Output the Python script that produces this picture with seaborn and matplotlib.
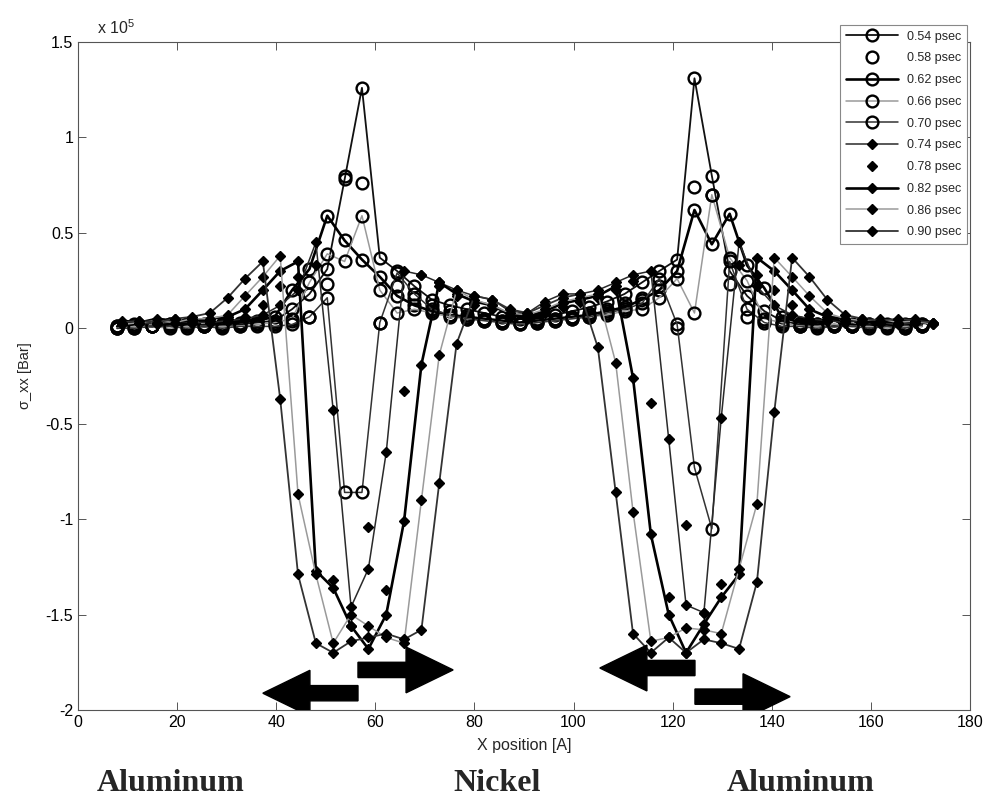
import matplotlib
matplotlib.use("Agg")
import matplotlib.pyplot as plt
from matplotlib.patches import FancyArrow
import pandas as pd
import seaborn as sns

# Bin centres along x [Angstrom]
X_DIAMOND = [8.8, 12.4, 15.9, 19.5, 23.0, 26.6, 30.2, 33.7, 37.3, 40.8, 44.4, 48.0,
             51.5, 55.1, 58.6, 62.2, 65.8, 69.3, 72.9, 76.4, 80.0, 83.6, 87.1, 90.7,
             94.2, 97.8, 101.4, 104.9, 108.5, 112.0, 115.6, 119.2, 122.7, 126.3, 129.8,
             133.4, 137.0, 140.5, 144.1, 147.6, 151.2, 154.8, 158.3, 161.9, 165.4, 169.0, 172.6]
X_CIRCLE = [7.9, 11.4, 15.0, 18.5, 22.0, 25.5, 29.1, 32.6, 36.1, 39.7, 43.2, 46.7,
            50.3, 53.8, 57.3, 60.9, 64.4, 67.9, 71.4, 75.0, 78.5, 82.0, 85.6, 89.1,
            92.6, 96.2, 99.7, 103.2, 106.7, 110.3, 113.8, 117.3, 120.9, 124.4, 127.9,
            131.5, 135.0, 138.5, 142.0, 145.6, 149.1, 152.6, 156.2, 159.7, 163.2, 166.8, 170.3]

# sigma_xx in units of 1e5 bar
S054 = [0.00, 0.01, 0.01, 0.02, 0.01, 0.02, 0.01, 0.02, 0.03, 0.04, 0.10, 0.18, 0.31, 0.78, 1.26, 0.37,
        0.30, 0.22, 0.15, 0.12, 0.10, 0.08, 0.06, 0.05, 0.05, 0.07, 0.09, 0.11, 0.14, 0.18, 0.24, 0.30,
        0.36, 1.31, 0.80, 0.30, 0.17, 0.09, 0.04, 0.02, 0.01, 0.02, 0.01, 0.02, 0.01, 0.02, 0.01]
S058 = [0.01, 0.00, 0.01, 0.01, 0.02, 0.01, 0.01, 0.02, 0.02, 0.02, 0.04, 0.06, 0.23, 0.80, 0.76, 0.03,
        0.22, 0.16, 0.12, 0.09, 0.07, 0.05, 0.04, 0.03, 0.04, 0.05, 0.06, 0.08, 0.10, 0.13, 0.16, 0.22,
        0.00, 0.74, 0.70, 0.23, 0.06, 0.04, 0.02, 0.01, 0.02, 0.01, 0.01, 0.02, 0.01, 0.00, 0.01]
S062 = [0.01, 0.02, 0.01, 0.02, 0.02, 0.01, 0.02, 0.03, 0.04, 0.06, 0.20, 0.31, 0.59, 0.46, 0.36, 0.27,
        0.17, 0.12, 0.09, 0.07, 0.06, 0.05, 0.04, 0.03, 0.04, 0.05, 0.06, 0.07, 0.09, 0.11, 0.15, 0.20,
        0.30, 0.62, 0.44, 0.60, 0.33, 0.21, 0.06, 0.03, 0.02, 0.01, 0.02, 0.01, 0.02, 0.01, 0.02]
S066 = [0.00, 0.01, 0.01, 0.00, 0.01, 0.01, 0.01, 0.01, 0.02, 0.03, 0.05, 0.24, 0.39, 0.35, 0.59, 0.20,
        0.08, 0.10, 0.08, 0.06, 0.05, 0.04, 0.03, 0.02, 0.03, 0.04, 0.05, 0.06, 0.07, 0.09, 0.10, 0.16,
        0.26, 0.08, 0.70, 0.37, 0.25, 0.05, 0.03, 0.01, 0.01, 0.02, 0.01, 0.01, 0.00, 0.01, 0.01]
S070 = [0.00, 0.00, 0.01, 0.01, 0.00, 0.01, 0.00, 0.01, 0.01, 0.01, 0.02, 0.06, 0.16, -0.86, -0.86, 0.03,
        0.29, 0.18, 0.10, 0.07, 0.05, 0.04, 0.03, 0.02, 0.03, 0.04, 0.05, 0.06, 0.08, 0.10, 0.13, 0.26,
        0.02, -0.73, -1.05, 0.35, 0.10, 0.03, 0.01, 0.01, 0.00, 0.01, 0.01, 0.00, 0.01, 0.00, 0.02]
S074 = [0.02, 0.03, 0.02, 0.04, 0.03, 0.03, 0.04, 0.05, 0.07, 0.12, 0.20, 0.45, -0.43, -1.46, -1.26, -0.65,
        0.30, 0.28, 0.24, 0.20, 0.17, 0.15, 0.09, 0.08, 0.14, 0.18, 0.18, 0.20, 0.24, 0.28, 0.30, -0.58,
        -1.45, -1.49, -0.47, 0.45, 0.22, 0.12, 0.07, 0.05, 0.04, 0.03, 0.04, 0.03, 0.02, 0.03, 0.02]
S078 = [0.03, 0.04, 0.04, 0.05, 0.03, 0.04, 0.05, 0.06, 0.12, 0.22, 0.27, 0.33, -1.32, -1.56, -1.04, -1.37,
        -0.33, 0.28, 0.22, 0.17, 0.12, 0.10, 0.06, 0.05, 0.08, 0.11, 0.14, 0.16, 0.20, 0.25, -0.39, -1.41,
        -1.03, -1.49, -1.34, 0.33, 0.28, 0.20, 0.12, 0.07, 0.05, 0.04, 0.05, 0.04, 0.03, 0.04, 0.03]
S082 = [0.04, 0.03, 0.05, 0.04, 0.04, 0.05, 0.06, 0.10, 0.20, 0.30, 0.35, -1.27, -1.36, -1.56, -1.68, -1.50,
        -1.01, -0.19, 0.24, 0.18, 0.14, 0.12, 0.07, 0.06, 0.09, 0.13, 0.15, 0.17, 0.22, -0.26, -1.08, -1.50,
        -1.70, -1.55, -1.41, -1.29, 0.37, 0.30, 0.20, 0.10, 0.06, 0.05, 0.04, 0.03, 0.04, 0.05, 0.03]
S086 = [0.02, 0.03, 0.04, 0.03, 0.05, 0.05, 0.07, 0.17, 0.27, 0.38, -0.87, -1.29, -1.65, -1.50, -1.56, -1.62,
        -1.65, -0.90, -0.14, 0.20, 0.15, 0.12, 0.08, 0.07, 0.10, 0.14, 0.16, 0.18, -0.18, -0.96, -1.64, -1.62,
        -1.57, -1.58, -1.60, -1.26, -0.92, 0.37, 0.27, 0.17, 0.08, 0.05, 0.04, 0.05, 0.03, 0.04, 0.02]
S090 = [0.03, 0.04, 0.03, 0.05, 0.06, 0.08, 0.16, 0.26, 0.35, -0.37, -1.29, -1.65, -1.70, -1.64, -1.62, -1.60,
        -1.63, -1.58, -0.81, -0.08, 0.17, 0.15, 0.10, 0.08, 0.12, 0.16, 0.18, -0.10, -0.86, -1.60, -1.70, -1.62,
        -1.70, -1.63, -1.65, -1.68, -1.33, -0.44, 0.37, 0.27, 0.15, 0.07, 0.05, 0.04, 0.05, 0.04, 0.03]

LABELS = ["0.54 psec", "0.58 psec", "0.62 psec", "0.66 psec", "0.70 psec",
          "0.74 psec", "0.78 psec", "0.82 psec", "0.86 psec", "0.90 psec"]
SERIES = [S054, S058, S062, S066, S070, S074, S078, S082, S086, S090]
UNIT = 1e5

Y_TICKS = [-2, -1.5, -1, -0.5, 0, 0.5, 1, 1.5]
Y_TICK_LABELS = ["-2", "-1.5", "-1", "-0.5", "0", "0.5", "1", "1.5"]
X_TICKS = [0, 20, 40, 60, 80, 100, 120, 140, 160, 180]

rows = []
for lab, vals in zip(LABELS, SERIES):
    xs = X_CIRCLE if lab in LABELS[:5] else X_DIAMOND
    for x, v in zip(xs, vals):
        rows.append({"time": lab, "x": x, "sigma": v * UNIT})
df = pd.DataFrame(rows)

# line colour, width, style and marker for each time step
STYLE = {
    "0.54 psec": dict(color="#111111", lw=1.3, ls="-", marker="o"),
    "0.58 psec": dict(color="#111111", lw=1.0, ls="none", marker="o"),
    "0.62 psec": dict(color="#000000", lw=1.9, ls="-", marker="o"),
    "0.66 psec": dict(color="#9a9a9a", lw=1.1, ls="-", marker="o"),
    "0.70 psec": dict(color="#333333", lw=1.1, ls="-", marker="o"),
    "0.74 psec": dict(color="#2a2a2a", lw=1.1, ls="-", marker="D"),
    "0.78 psec": dict(color="#111111", lw=1.0, ls="none", marker="D"),
    "0.82 psec": dict(color="#000000", lw=1.9, ls="-", marker="D"),
    "0.86 psec": dict(color="#9a9a9a", lw=1.1, ls="-", marker="D"),
    "0.90 psec": dict(color="#333333", lw=1.3, ls="-", marker="D"),
}

sns.set_theme(style="white")
plt.rcParams["font.family"] = ["Liberation Sans", "DejaVu Sans"]
plt.rcParams["mathtext.default"] = "regular"

fig = plt.figure(figsize=(9.87, 7.97), dpi=100)
ax = fig.add_axes([78 / 987, 1 - 710 / 797, (970 - 78) / 987, (710 - 42) / 797])

for lab in LABELS:
    st = STYLE[lab]
    sub = df[df["time"] == lab]
    circle = st["marker"] == "o"
    sns.lineplot(data=sub, x="x", y="sigma", ax=ax, estimator=None, sort=False,
                 color=st["color"], linewidth=st["lw"], linestyle=st["ls"],
                 marker=st["marker"], markersize=8.5 if circle else 5.6,
                 markerfacecolor="none" if circle else "black",
                 markeredgecolor="black", markeredgewidth=1.7 if circle else 1.0,
                 label=lab)

ax.set_xlim(0, 180)
ax.set_ylim(-2 * UNIT, 1.5 * UNIT)
ax.set_xticks(X_TICKS)
ax.set_xticklabels([str(t) for t in X_TICKS])
ax.set_yticks([t * UNIT for t in Y_TICKS])
ax.set_yticklabels(Y_TICK_LABELS)
ax.tick_params(direction="in", length=6, width=0.7, colors="#555555",
               labelcolor="black", labelsize=11.5, top=True, right=True,
               bottom=True, left=True)
for sp in ax.spines.values():
    sp.set_color("#555555")
    sp.set_linewidth(0.8)
ax.set_xlabel("X position [A]", fontsize=11.5, labelpad=6)
ax.set_ylabel("σ_xx [Bar]", fontsize=10.5, labelpad=10)
ax.grid(False)

# propagation arrows under the two compression wells
ARROWS = [(56.5, -1.912, -19.2), (56.5, -1.79, 19.2),
          (124.5, -1.78, -19.2), (124.5, -1.93, 19.2)]
for x0, y0, dx in ARROWS:
    ax.add_patch(FancyArrow(x0, y0 * UNIT, dx, 0, width=0.08 * UNIT,
                            head_width=0.24 * UNIT, head_length=9.5,
                            length_includes_head=True, color="black", zorder=5))

handles, labels = ax.get_legend_handles_labels()
leg = ax.legend(handles, labels, loc="upper right",
                bbox_to_anchor=(967 / 987, 1 - 25 / 797), bbox_transform=fig.transFigure,
                fontsize=9, labelspacing=0.78, handlelength=4.2, handletextpad=0.7,
                borderpad=0.45, borderaxespad=0, frameon=True, fancybox=False,
                framealpha=1, edgecolor="#888888")
leg.get_frame().set_linewidth(0.8)

fig.text(97 / 987, 1 - 28 / 797, "x 10$^{5}$", fontsize=11.5, va="center", ha="left")

for name, xc in [("Aluminum", 171), ("Nickel", 497), ("Aluminum", 801)]:
    fig.text(xc / 987, 1 - 791 / 797, name, family=["Liberation Serif", "DejaVu Serif"],
             fontweight="bold", fontsize=23, ha="center", va="baseline")

fig.savefig("out.png", dpi=100)
